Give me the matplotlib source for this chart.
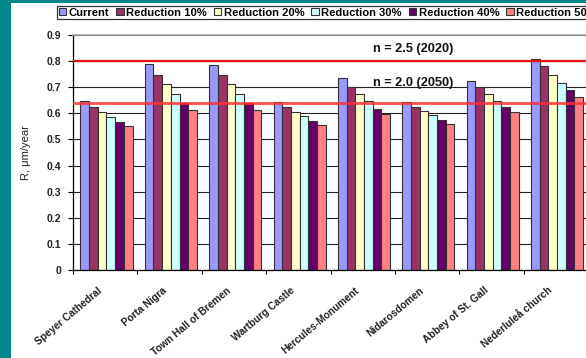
import numpy as np
import matplotlib.pyplot as plt
from matplotlib.patches import Rectangle

plt.rcParams['font.family'] = ['Liberation Sans', 'DejaVu Sans']

sites = ['Speyer Cathedral', 'Porta Nigra', 'Town Hall of Bremen', 'Wartburg Castle',
         'Hercules-Monument', 'Nidarosdomen', 'Abbey of St. Gall', 'Nederluleå church']
series = ['Current', 'Reduction 10%', 'Reduction 20%', 'Reduction 30%',
          'Reduction 40%', 'Reduction 50%']

current = [0.649, 0.788, 0.784, 0.644, 0.736, 0.644, 0.724, 0.808]
red10 = [0.626, 0.746, 0.748, 0.623, 0.702, 0.626, 0.699, 0.782]
red20 = [0.607, 0.711, 0.711, 0.605, 0.674, 0.608, 0.674, 0.748]
red30 = [0.585, 0.673, 0.673, 0.590, 0.649, 0.594, 0.649, 0.718]
red40 = [0.567, 0.639, 0.641, 0.572, 0.618, 0.575, 0.626, 0.688]
red50 = [0.552, 0.611, 0.612, 0.554, 0.596, 0.561, 0.605, 0.663]

n25_2020 = 0.80
n20_2050 = 0.64

colors = ['#9999ff', '#993366', '#ffffcc', '#ccffff', '#660066', '#ff8080']
teal = '#00878a'

fig = plt.figure(figsize=(5.86, 3.58), dpi=100)
fig.patch.set_facecolor('white')

# teal frame strips (left and top)
fig.add_artist(Rectangle((0, 0), 11 / 586, 1, transform=fig.transFigure,
                         facecolor=teal, edgecolor='none', zorder=0))
fig.add_artist(Rectangle((0, 1 - 2.5 / 358), 1, 2.5 / 358, transform=fig.transFigure,
                         facecolor=teal, edgecolor='none', zorder=0))

ax = fig.add_axes([73 / 586, 1 - 270 / 358, 515 / 586, 235 / 358])

x = np.arange(len(sites))
w = 0.135
data = [current, red10, red20, red30, red40, red50]
for i, (vals, name, c) in enumerate(zip(data, series, colors)):
    ax.bar(x + (i - 2.5) * w + 0.02, vals, width=w, color=c, edgecolor='#333333',
           linewidth=0.8, label=name, zorder=2)

# reference lines
ax.axhline(n25_2020, color='#e81010', lw=1.6, zorder=4)
ax.axhline(n20_2050, color='#ff3030', lw=2.0, alpha=0.85, zorder=4)
ax.text(4.78, 0.847, 'n = 2.5 (2020)', ha='center', va='center', fontsize=9.2,
        fontweight='bold', color='#111111', zorder=5)
ax.text(4.78, 0.716, 'n = 2.0 (2050)', ha='center', va='center', fontsize=9.2,
        fontweight='bold', color='#111111', zorder=5)

ax.set_xlim(-0.5, len(sites) - 0.5)
ax.set_ylim(0, 0.9)
ax.set_yticks(np.arange(0, 0.91, 0.1))
ax.set_yticklabels(['0' if v == 0 else f'{v:.1f}' for v in np.arange(0, 0.91, 0.1)],
                   fontsize=7.5, fontweight='bold', color='#222222')
ax.yaxis.grid(True, color='#222222', lw=0.8, zorder=0)
ax.set_axisbelow(True)

# site names hang slightly left of each group centre (invisible major ticks)
ax.set_xticks(x - 0.12)
ax.set_xticklabels(sites, rotation=40, ha='right', rotation_mode='anchor',
                   fontsize=7.3, fontweight='bold', color='#222222')
ax.set_xticks(np.arange(-0.5, len(sites), 1), minor=True)
ax.tick_params(axis='x', which='major', length=0, pad=11)
ax.tick_params(axis='x', which='minor', length=3, width=0.8, direction='out')
ax.tick_params(axis='y', length=3.5, width=0.8, direction='out', pad=5)

for s in ['left', 'bottom']:
    ax.spines[s].set_color('black')
    ax.spines[s].set_linewidth(0.9)
ax.spines['top'].set_color('#aaaaaa')
ax.spines['top'].set_linewidth(1.2)
ax.spines['right'].set_visible(False)

ax.set_ylabel('R, μm/year', fontsize=8, color='#222222', labelpad=11)

handles, labels = ax.get_legend_handles_labels()
leg = fig.legend(handles, labels, loc='upper left', bbox_to_anchor=(57 / 586, 1 - 6 / 358),
                 ncol=6, prop={'weight': 'bold', 'size': 8.1},
                 handlelength=0.65, handleheight=0.65, handletextpad=0.25,
                 columnspacing=0.6, borderpad=0.15, frameon=True, fancybox=False,
                 borderaxespad=0)
leg.get_frame().set_edgecolor('black')
leg.get_frame().set_linewidth(0.9)

fig.savefig('out.png', dpi=100, facecolor='white')
